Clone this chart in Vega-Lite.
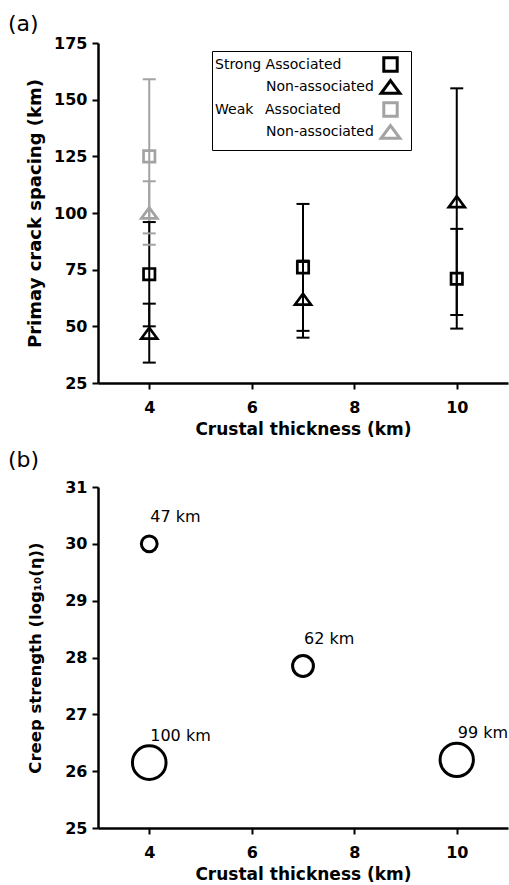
{
  "$schema": "https://vega.github.io/schema/vega-lite/v6.json",
  "padding": {"left": 8, "top": 13, "right": 0, "bottom": 0},
  "spacing": 12,
  "config": {
    "font": "DejaVu Sans",
    "view": {"stroke": null},
    "axis": {
      "grid": false,
      "domainColor": "black",
      "domainWidth": 2.5,
      "tickColor": "black",
      "tickWidth": 2,
      "tickSize": 6,
      "labelFont": "DejaVu Sans",
      "labelFontWeight": "bold",
      "labelFontSize": 16,
      "labelColor": "black",
      "labelPadding": 5,
      "titleFont": "DejaVu Sans",
      "titleFontWeight": "bold",
      "titleFontSize": 17,
      "titleColor": "black"
    },
    "axisX": {"labelPadding": 10, "titlePadding": 6},
    "legend": {
      "labelFont": "DejaVu Sans",
      "labelFontSize": 14,
      "labelColor": "black",
      "labelLimit": 300,
      "labelOffset": -184,
      "symbolOffset": 165,
      "symbolSize": 180,
      "symbolStrokeWidth": 3,
      "symbolFillColor": "transparent",
      "rowPadding": -3.5,
      "padding": 5,
      "strokeColor": "black"
    },
    "title": {
      "font": "DejaVu Sans",
      "fontSize": 22,
      "fontWeight": "normal",
      "color": "black",
      "anchor": "start",
      "frame": "group"
    }
  },
  "vconcat": [
    {
      "title": {"text": "(a)", "dx": -90, "offset": -1},
      "width": 410,
      "height": 340,
      "data": {
        "values": [
          {"thickness": 4, "series": "Weak Associated", "spacing": 125, "lo": 91, "hi": 159},
          {"thickness": 4, "series": "Weak Non-associated", "spacing": 100, "lo": 86, "hi": 114},
          {"thickness": 4, "series": "Strong Associated", "spacing": 73, "lo": 50, "hi": 96},
          {"thickness": 4, "series": "Strong Non-associated", "spacing": 47, "lo": 34, "hi": 60},
          {"thickness": 7, "series": "Strong Associated", "spacing": 76, "lo": 48, "hi": 104},
          {"thickness": 7, "series": "Strong Non-associated", "spacing": 62, "lo": 45, "hi": 79},
          {"thickness": 10, "series": "Strong Associated", "spacing": 71, "lo": 49, "hi": 93},
          {"thickness": 10, "series": "Strong Non-associated", "spacing": 105, "lo": 55, "hi": 155}
        ]
      },
      "encoding": {
        "x": {
          "field": "thickness",
          "type": "quantitative",
          "title": "Crustal thickness (km)",
          "scale": {"domain": [3, 11], "nice": false, "zero": false},
          "axis": {"values": [4, 6, 8, 10]}
        },
        "color": {
          "field": "series",
          "type": "nominal",
          "scale": {
            "domain": ["Strong Associated", "Strong Non-associated", "Weak Associated", "Weak Non-associated"],
            "range": ["#000000", "#000000", "#a3a3a3", "#a3a3a3"]
          },
          "legend": {
            "title": null,
            "orient": "none",
            "legendX": 114,
            "legendY": 8,
            "labelExpr": "datum.label === 'Weak Associated' ? 'Weak\u2007\u2009Associated' : datum.label === 'Strong Associated' ? 'Strong Associated' : 'Non-associated'",
            "encode": {
              "symbols": {"update": {"fill": {"value": "transparent"}, "strokeWidth": {"value": 3}}},
              "labels": {"update": {"dx": {"signal": "indexof(datum.value, 'Non-associated') >= 0 ? 51 : 0"}}}
            }
          }
        }
      },
      "layer": [
        {
          "mark": {"type": "rule", "strokeWidth": 2},
          "encoding": {
            "y": {
              "field": "lo",
              "type": "quantitative",
              "title": "Primay crack spacing (km)",
              "scale": {"domain": [25, 175], "nice": false, "zero": false},
              "axis": {"values": [25, 50, 75, 100, 125, 150, 175], "titleFontSize": 18, "titlePadding": 9}
            },
            "y2": {"field": "hi"}
          }
        },
        {
          "mark": {"type": "tick", "orient": "horizontal", "size": 11, "thickness": 0.01, "filled": false, "strokeWidth": 2, "opacity": 1},
          "encoding": {"y": {"field": "lo", "type": "quantitative"}}
        },
        {
          "mark": {"type": "tick", "orient": "horizontal", "size": 11, "thickness": 0.01, "filled": false, "strokeWidth": 2, "opacity": 1},
          "encoding": {"y": {"field": "hi", "type": "quantitative"}}
        },
        {
          "mark": {"type": "point", "filled": false, "size": 130, "strokeWidth": 2.7, "opacity": 1},
          "encoding": {
            "y": {"field": "spacing", "type": "quantitative"},
            "shape": {
              "field": "series",
              "type": "nominal",
              "scale": {
                "domain": ["Strong Associated", "Strong Non-associated", "Weak Associated", "Weak Non-associated"],
                "range": ["square", "M0,-0.95L1.4,0.95L-1.4,0.95Z", "square", "M0,-0.95L1.4,0.95L-1.4,0.95Z"]
              },
              "legend": {
                "title": null,
                "orient": "none",
                "legendX": 114,
                "legendY": 8,
                "labelExpr": "datum.label === 'Weak Associated' ? 'Weak\u2007\u2009Associated' : datum.label === 'Strong Associated' ? 'Strong Associated' : 'Non-associated'",
                "encode": {
                  "symbols": {"update": {"fill": {"value": "transparent"}, "strokeWidth": {"value": 3}}},
                  "labels": {"update": {"dx": {"signal": "indexof(datum.value, 'Non-associated') >= 0 ? 51 : 0"}}}
                }
              }
            }
          }
        }
      ]
    },
    {
      "title": {"text": "(b)", "dx": -90, "offset": 7},
      "width": 410,
      "height": 341,
      "data": {
        "values": [
          {"thickness": 4, "strength": 30.0, "spacing": 47, "label": "47 km"},
          {"thickness": 7, "strength": 27.85, "spacing": 62, "label": "62 km"},
          {"thickness": 4, "strength": 26.15, "spacing": 100, "label": "100 km"},
          {"thickness": 10, "strength": 26.2, "spacing": 99, "label": "99 km"}
        ]
      },
      "encoding": {
        "x": {
          "field": "thickness",
          "type": "quantitative",
          "title": "Crustal thickness (km)",
          "scale": {"domain": [3, 11], "nice": false, "zero": false},
          "axis": {"values": [4, 6, 8, 10]}
        },
        "y": {
          "field": "strength",
          "type": "quantitative",
          "title": "Creep strength (log\u2081\u2080(\u03b7))",
          "scale": {"domain": [25, 31], "nice": false, "zero": false},
          "axis": {"values": [25, 26, 27, 28, 29, 30, 31], "titleFontSize": 16.5, "titlePadding": 21}
        }
      },
      "layer": [
        {
          "mark": {"type": "point", "shape": "circle", "filled": false, "color": "black", "strokeWidth": 3, "opacity": 1},
          "encoding": {
            "size": {
              "field": "spacing",
              "type": "quantitative",
              "scale": {"type": "pow", "exponent": 2, "domain": [0, 100], "range": [0, 1130]},
              "legend": null
            }
          }
        },
        {
          "mark": {"type": "text", "align": "left", "baseline": "middle", "dx": 1, "dy": -27, "fontSize": 16, "font": "DejaVu Sans", "color": "black"},
          "encoding": {"text": {"field": "label", "type": "nominal"}}
        }
      ]
    }
  ]
}
